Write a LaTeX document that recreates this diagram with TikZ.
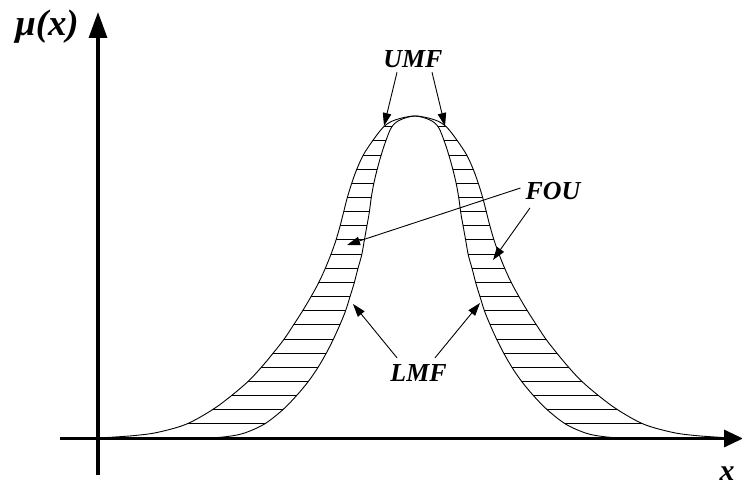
\documentclass[tikz,border=0pt]{standalone}
\usepackage{fontspec}
\setmainfont{Liberation Serif}
\usetikzlibrary{arrows.meta}
\def\outercurve{plot coordinates {(100,438) (115,437) (135,435.5) (157,432.5) (186,424.3) (212,410) (231,396) (248,381.5) (261,367.7) (273,353.3) (284,339.3) (293.5,325) (302.5,311) (311,296.7) (318.5,283) (325,269) (330.7,255) (335.7,241) (339.8,227) (343.4,213) (347.2,198) (351.5,184) (356.5,170) (363.3,155) (372.5,141) (383.5,127) (395,120) (415,116) (435,120) (446.5,127) (457.5,141) (466.7,155) (473.5,170) (478.5,184) (482.8,198) (486.6,213) (490.2,227) (494.3,241) (499.3,255) (505,269) (511.5,283) (519,296.7) (527.5,311) (536.5,325) (546,339.3) (557,353.3) (569,367.7) (582,381.5) (599,396) (618,410) (644,424.3) (673,432.5) (695,435.5) (715,437) (730,438)}}
\def\innercurve{plot coordinates {(210,438) (225,436.8) (243,433.5) (264,424.3) (282.5,410) (296.2,396) (308.3,381.5) (317.8,367.7) (326.2,353.3) (333.3,339.3) (339.8,325) (345.5,311) (350,296.7) (354.2,283) (357.8,269) (361.7,255) (364.2,241) (366.7,227) (369.2,213) (371.2,198) (373.7,184) (377,170) (381.2,155) (385.8,141) (391.7,127) (400,120) (415,116) (430,120) (438.3,127) (444.2,141) (448.8,155) (453,170) (456.3,184) (458.8,198) (460.8,213) (463.3,227) (465.8,241) (468.3,255) (472.2,269) (475.8,283) (480,296.7) (484.5,311) (490.2,325) (496.7,339.3) (503.8,353.3) (512.2,367.7) (521.7,381.5) (533.8,396) (547.5,410) (566,424.3) (587,433.5) (605,436.8) (620,438)}}
\tikzset{
  every plot/.style={smooth,tension=0.55},
  curve/.style={line width=0.9bp},
  hatch/.style={line width=0.8bp},
  axisline/.style={line width=3.2bp},
  arr/.style={line width=0.9bp,-{Triangle[length=13bp,width=8.5bp]}},
  lbl/.style={font=\fontsize{26}{26}\selectfont\bfseries\itshape,inner sep=0pt}
}
\begin{document}
\begin{tikzpicture}[x=1bp,y=-1bp]
\useasboundingbox (0,0) rectangle (742,486);
% hatching between UMF and LMF
\begin{scope}[even odd rule]
  \clip \outercurve -- cycle \innercurve -- cycle;
  \foreach \k in {1,...,22}{
    \draw[hatch] (90,{438-14.15*\k}) -- (740,{438-14.15*\k});
  }
\end{scope}
% membership functions
\draw[curve] \outercurve;
\draw[curve] \innercurve;
% axes
\coordinate (yb) at (98,475);
\coordinate (yt) at (98,12);
\coordinate (xl0) at (60,438.5);
\coordinate (xr) at (743,438.5);
\draw[axisline,-{Triangle[length=26bp,width=18bp]}] (yb) -- (yt);
\draw[axisline,-{Triangle[length=19bp,width=17bp]}] (xl0) -- (xr);
% labels
\node[inner sep=0pt,font=\fontsize{37}{37}\selectfont\bfseries\itshape] (mu) at (47,27) {μ(x)};
\node[inner sep=0pt,font=\fontsize{30}{30}\selectfont\bfseries\itshape] (xlab) at (727,474) {x};
\node[lbl] (umf) at (413,59.5) {UMF};
\node[lbl] (fou) at (553,191) {FOU};
\node[lbl] (lmf) at (418.5,373) {LMF};
% arrow tips
\coordinate (tu1) at (384,126);
\coordinate (tu2) at (445,126);
\coordinate (tf1) at (347,245);
\coordinate (tf2) at (493,260);
\coordinate (tl1) at (353,304);
\coordinate (tl2) at (480,303);
\draw[arr] ([xshift=-16bp,yshift=-4bp]umf.south) -- (tu1);
\draw[arr] ([xshift=19bp,yshift=-4bp]umf.south) -- (tu2);
\draw[arr] ([xshift=-5bp,yshift=3bp]fou.west) -- (tf1);
\draw[arr] ([xshift=-23bp,yshift=-8bp]fou.south) -- (tf2);
\draw[arr] ([xshift=-21.5bp,yshift=6.5bp]lmf.north) -- (tl1);
\draw[arr] ([xshift=16.5bp,yshift=6.5bp]lmf.north) -- (tl2);
\end{tikzpicture}
\end{document}
